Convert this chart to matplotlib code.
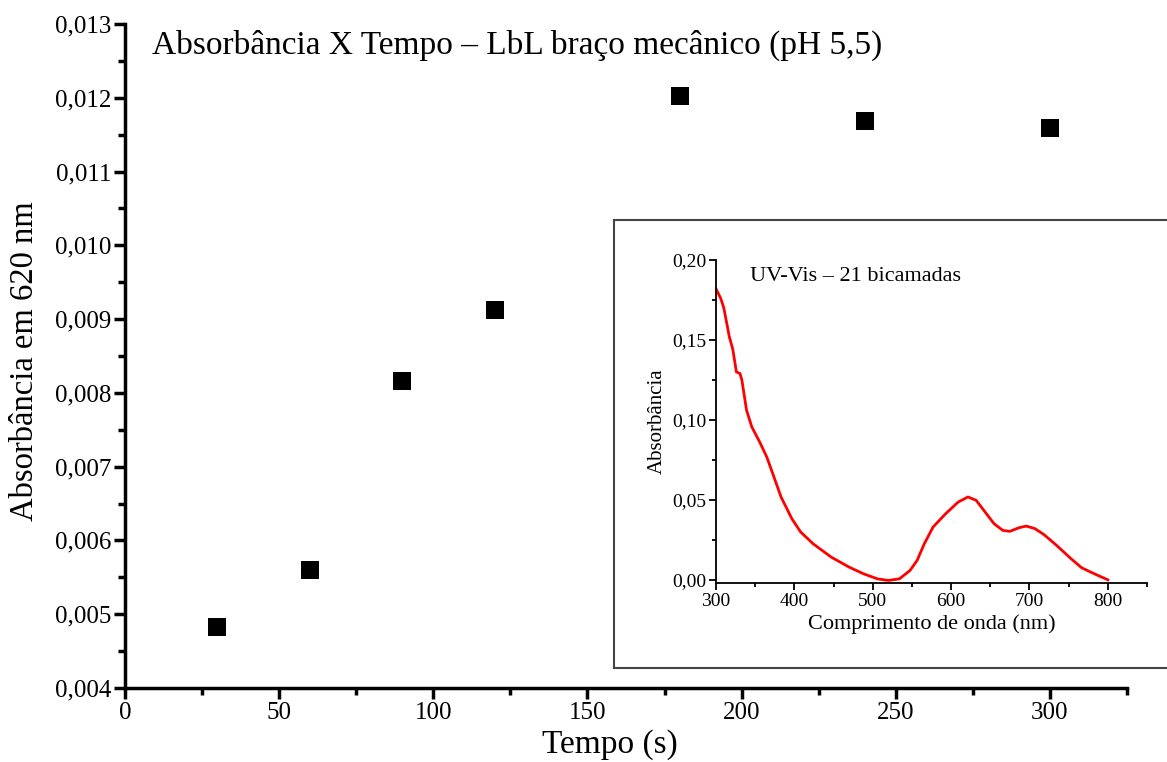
import matplotlib
matplotlib.use("Agg")
import matplotlib.pyplot as plt
from matplotlib.ticker import MultipleLocator, FuncFormatter

plt.rcParams['font.family'] = ['Liberation Serif', 'DejaVu Serif']

# Main data: absorbance at 620 nm vs time
tempo = [30, 60, 90, 120, 180, 240, 300]
absorb = [0.00483, 0.0056, 0.00816, 0.00912, 0.01203, 0.01168, 0.01159]

# Inset: UV-Vis spectrum (21 bilayers)
wl = [300, 306, 310, 317, 321.5, 326, 330.6, 333, 339, 345.7, 355.7, 364.8, 371.7,
      383, 396.8, 408, 424, 447, 470, 488, 506, 520, 534, 547.5, 556.6, 565.8,
      577, 593, 609, 621.5, 632, 643.4, 654.8, 666, 675, 686.8, 696, 707, 718.7,
      734.7, 753, 766.7, 782.6, 800]
spec = [0.182, 0.176, 0.170, 0.152, 0.144, 0.130, 0.129, 0.125, 0.106, 0.0956,
        0.0862, 0.0768, 0.0674, 0.0518, 0.0382, 0.0299, 0.0225, 0.0142, 0.0079,
        0.0038, 0.0006, -0.0004, 0.0006, 0.0058, 0.0121, 0.0225, 0.033, 0.0413,
        0.0486, 0.0518, 0.0497, 0.0424, 0.0351, 0.0309, 0.0303, 0.0326, 0.0336,
        0.032, 0.0282, 0.0215, 0.0132, 0.0075, 0.0038, 0.0]

W, H = 1167, 762
fig = plt.figure(figsize=(W / 100, H / 100), dpi=100)

def fx(px):
    return px / W

def fy(py):
    return 1 - py / H

comma = lambda d: FuncFormatter(lambda v, p: f"{v:.{d}f}".replace('.', ','))

# Main axes
ax = fig.add_axes([fx(125), fy(688), fx(1127) - fx(125), fy(24) - fy(688)])
ax.scatter(tempo, absorb, marker='s', s=150, color='black', zorder=3, linewidths=0)
ax.set_xlim(0, 325)
ax.set_ylim(0.004, 0.013)
ax.xaxis.set_major_locator(MultipleLocator(50))
ax.xaxis.set_minor_locator(MultipleLocator(25))
ax.yaxis.set_major_locator(MultipleLocator(0.001))
ax.yaxis.set_minor_locator(MultipleLocator(0.0005))
ax.yaxis.set_major_formatter(comma(3))
for s in ['top', 'right']:
    ax.spines[s].set_visible(False)
for s in ['left', 'bottom']:
    ax.spines[s].set_linewidth(2.5)
ax.tick_params(which='major', direction='out', length=8, width=2.5, labelsize=18, pad=2)
ax.tick_params(which='minor', direction='out', length=5, width=2.5)
fig.text(fx(610), fy(745), "Tempo (s)", fontsize=24, ha='center', va='center')
fig.text(fx(25), fy(361), "Absorbância em 620 nm", fontsize=23.5, ha='center',
         va='center', rotation=90)
fig.text(fx(152), fy(45), "Absorbância X Tempo – LbL braço mecânico (pH 5,5)",
         fontsize=24, va='center', ha='left')

# Frame for inset
fr = fig.add_axes([fx(614), fy(668), fx(1175) - fx(614), fy(220) - fy(668)])
fr.set_xticks([])
fr.set_yticks([])
for s in fr.spines.values():
    s.set_edgecolor('#444444')
    s.set_linewidth(1.5)

# Inset axes
ins = fig.add_axes([fx(716), fy(583), fx(1147) - fx(716), fy(260) - fy(583)])
ins.plot(wl, spec, color='#ff0000', lw=2)
ins.set_xlim(300, 850)
ins.set_ylim(-0.002, 0.20)
ins.xaxis.set_major_locator(MultipleLocator(100))
ins.xaxis.set_minor_locator(MultipleLocator(50))
ins.yaxis.set_major_locator(MultipleLocator(0.05))
ins.yaxis.set_minor_locator(MultipleLocator(0.025))
ins.yaxis.set_major_formatter(comma(2))
for s in ['top', 'right']:
    ins.spines[s].set_visible(False)
for s in ['left', 'bottom']:
    ins.spines[s].set_linewidth(1.3)
ins.tick_params(which='major', direction='out', length=5, width=1.3, labelsize=14, pad=2)
ins.tick_params(which='minor', direction='out', length=3, width=1.3)
ins.set_xlabel("Comprimento de onda (nm)", fontsize=16, labelpad=3)
ins.set_ylabel("Absorbância", fontsize=15, labelpad=4)
ins.text(fx(750), fy(277), "UV-Vis – 21 bicamadas", transform=fig.transFigure,
         fontsize=16, va='center', ha='left')

fig.savefig("out.png", dpi=100)
